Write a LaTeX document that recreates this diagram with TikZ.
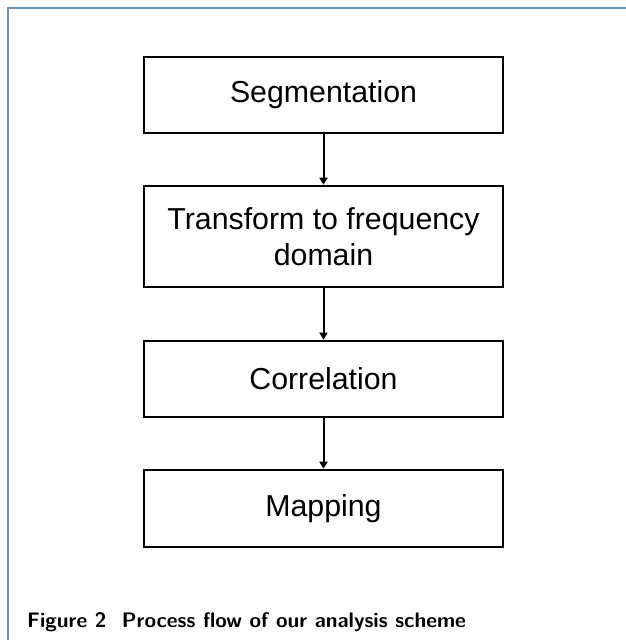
\documentclass[tikz,border=0pt]{standalone}
\usepackage{fontspec}
\newfontfamily\boxfont{Liberation Sans}
\usetikzlibrary{arrows.meta}
\definecolor{framecol}{HTML}{7090B0}
\begin{document}
\begin{tikzpicture}[x=1pt,y=-1pt,
  stepbox/.style={draw=black,line width=2.6pt,minimum width=359pt,inner sep=0pt,
    font=\boxfont\fontsize{30.3}{35.8}\selectfont,align=center},
  flow/.style={line width=2pt,-{Triangle[length=7pt,width=8pt]}}]
\useasboundingbox (0,0) rectangle (626,640);
\draw[framecol,line width=2pt] (626,7.5) -- (7.5,7.5) -- (7.5,640);
\node[stepbox,minimum height=76pt] (s) at (323.5,95) {Segmentation};
\node[stepbox,minimum height=101pt] (t) at (323.5,236.5) {Transform to frequency\\domain};
\node[stepbox,minimum height=76pt] (c) at (323.5,379) {Correlation};
\node[stepbox,minimum height=77pt] (m) at (323.5,508.5) {Mapping};
\draw[flow] (s) -- (t);
\draw[flow] (t) -- (c);
\draw[flow] (c) -- (m);
\node[anchor=base west,inner sep=0pt,font=\sffamily\bfseries\fontsize{21}{24}\selectfont] (cap) at (27,627) {Figure 2\ \ Process flow of our analysis scheme};
\end{tikzpicture}
\end{document}
